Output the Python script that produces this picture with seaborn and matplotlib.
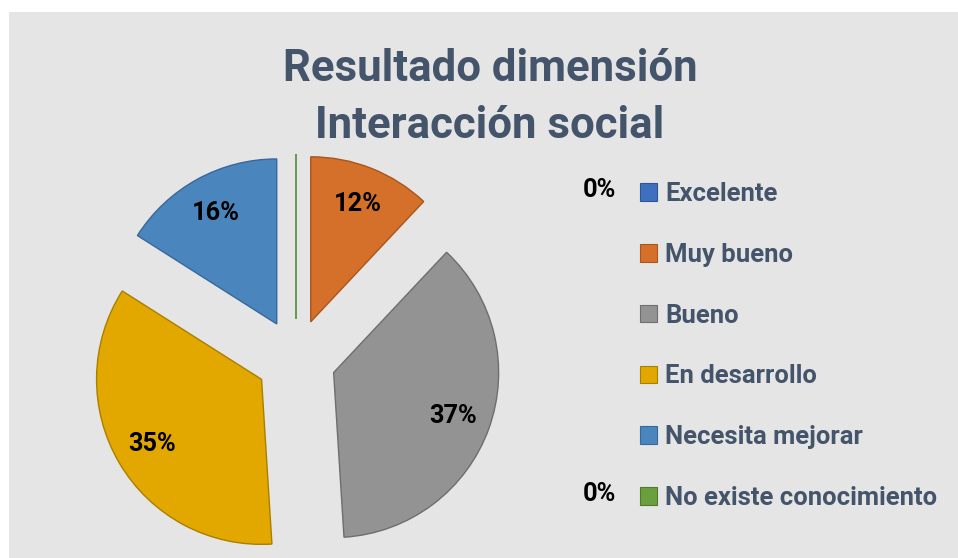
import matplotlib
matplotlib.use("Agg")
import matplotlib.pyplot as plt
import seaborn as sns
from matplotlib.patches import Rectangle

categories = ["Excelente", "Muy bueno", "Bueno", "En desarrollo",
              "Necesita mejorar", "No existe conocimiento"]
values = [0, 12, 37, 35, 16, 0]
title_lines = ["Resultado dimensión", "Interacción social"]

colors = ["#3F6FBF", "#D5702A", "#939393", "#E2A800", "#4A86BD", "#6A9F3D"]
edges = ["#2E5594", "#A9551C", "#6E6E6E", "#A97F00", "#36689A", "#4E7A2C"]

FONT = ["Roboto", "DejaVu Sans"]
sns.set_theme(style="white")
plt.rcParams["font.family"] = FONT

W, H = 958, 558
fig = plt.figure(figsize=(W / 100, H / 100), dpi=100)
fig.patch.set_facecolor("white")
ax = fig.add_axes([0, 0, 1, 1])
renderer = fig.canvas.get_renderer()


def fit_size(txt, target_px):
    """Scale a text's font size so that its rendered width matches target."""
    for _ in range(3):
        w = txt.get_window_extent(renderer).width
        txt.set_fontsize(txt.get_fontsize() * target_px / w)
    return txt.get_fontsize()


# light grey background panel
ax.add_patch(Rectangle((9, 0), W - 9, H - 12, facecolor="#e5e5e5",
                       edgecolor="none", zorder=0))

palette = sns.color_palette(colors)


def fmt(p):
    return f"{p:.0f}%" if p >= 0.5 else ""


wedges, texts, autotexts = ax.pie(
    values, colors=palette, startangle=90, counterclock=False,
    radius=165, center=(296, H - 359), explode=[40] * len(values),
    autopct=fmt, pctdistance=0.77,
    wedgeprops=dict(linewidth=1.0),
    textprops=dict(fontsize=15, fontweight="bold", color="black"),
    frame=True,
)
for w, ec in zip(wedges, edges):
    w.set_edgecolor(ec)
    w.set_zorder(2)
for w, v, c in zip(wedges, values, colors):
    if v == 0:
        w.set_edgecolor(c)
        w.set_linewidth(1.2)

ax.set_xlim(0, W)
ax.set_ylim(0, H)
ax.set_aspect("equal")
ax.axis("off")

# percent labels sized like the reference ("37%" ~ 48 px wide)
pct_size = None
for t in autotexts:
    if t.get_text() == "37%":
        pct_size = fit_size(t, 48)
for t in autotexts:
    t.set_fontsize(pct_size)

zero_y = {0: 190, 5: 494}
for i, v in enumerate(values):
    if v == 0:
        ax.text(616, H - zero_y[i], f"{v}%", ha="right", va="center",
                fontsize=pct_size, fontweight="bold", color="black")

# legend font size from the widest entry (~272 px)
probe = fig.text(0, 0, categories[-1], fontsize=15, fontweight="bold")
leg_size = fit_size(probe, 272)
probe.remove()

ls = 1.9
anchor = [636, 178]
for _ in range(3):
    leg = ax.legend(
        wedges, categories, loc="upper left",
        bbox_to_anchor=(anchor[0] / W, 1 - anchor[1] / H),
        frameon=False, handlelength=0.68, handleheight=0.68, handletextpad=0.3,
        labelspacing=ls, borderaxespad=0, borderpad=0,
        prop=dict(family=FONT, weight="bold", size=leg_size),
    )
    fig.canvas.draw()
    hs = leg.legend_handles
    b0 = hs[0].get_window_extent(renderer)
    b5 = hs[-1].get_window_extent(renderer)
    c0 = H - (b0.y0 + b0.y1) / 2
    c5 = H - (b5.y0 + b5.y1) / 2
    gap = (c5 - c0) / 5
    ls += (60.8 - gap) / (leg_size * 100 / 72)
    anchor[0] += 640 - b0.x0
    anchor[1] += 192 - c0

for t in leg.get_texts():
    t.set_color("#44546A")
for h, ec in zip(leg.legend_handles, edges):
    h.set_edgecolor(ec)
    h.set_linewidth(0.8)

t1 = fig.text(490 / W, 1 - 69 / H, title_lines[0], ha="center", va="center",
              fontsize=28, fontweight="bold", color="#44546A")
title_size = fit_size(t1, 415)
fig.text(490 / W, 1 - 126 / H, title_lines[1], ha="center", va="center",
         fontsize=title_size, fontweight="bold", color="#44546A")

fig.savefig("out.png", dpi=100, facecolor="white")
